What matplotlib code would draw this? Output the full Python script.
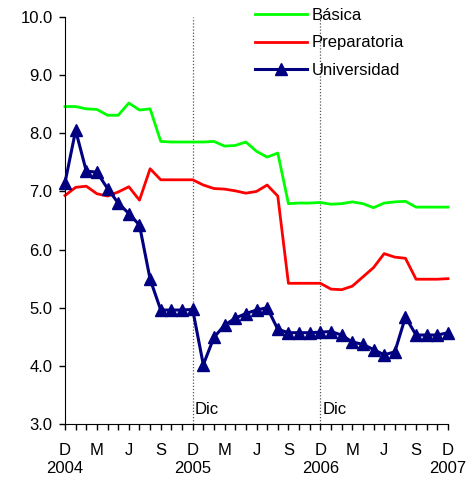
import matplotlib
matplotlib.use("Agg")
import matplotlib.pyplot as plt
import numpy as np

plt.rcParams["font.family"] = ["Liberation Sans", "DejaVu Sans"]

# monthly values, Dec 2004 .. Dec 2007
basica = [8.46, 8.46, 8.42, 8.41, 8.31, 8.31, 8.52, 8.40, 8.42, 7.86, 7.85, 7.85,
          7.85, 7.85, 7.86, 7.78, 7.79, 7.85, 7.69, 7.59, 7.66, 6.79, 6.80, 6.80,
          6.81, 6.78, 6.79, 6.82, 6.79, 6.72, 6.80, 6.82, 6.83, 6.73, 6.73, 6.73, 6.73]
preparatoria = [6.93, 7.07, 7.09, 6.96, 6.92, 6.99, 7.08, 6.85, 7.39, 7.20, 7.20, 7.20,
                7.20, 7.11, 7.05, 7.04, 7.01, 6.97, 7.00, 7.11, 6.92, 5.42, 5.42, 5.42,
                5.42, 5.32, 5.31, 5.37, 5.53, 5.69, 5.93, 5.87, 5.85, 5.49, 5.49, 5.49, 5.50]
universidad = [7.15, 8.05, 7.35, 7.33, 7.05, 6.80, 6.62, 6.42, 5.49, 4.96, 4.96, 4.96,
               4.97, 4.02, 4.49, 4.70, 4.82, 4.90, 4.96, 5.00, 4.63, 4.57, 4.57, 4.57,
               4.58, 4.59, 4.53, 4.41, 4.37, 4.28, 4.19, 4.24, 4.84, 4.53, 4.53, 4.53, 4.57]
quarter_labels = ["D\n2004", "M", "J", "S", "D\n2005", "M", "J", "S",
                  "D\n2006", "M", "J", "S", "D\n2007"]
dic_months = [12, 24]

months = np.arange(len(basica))

fig = plt.figure(figsize=(4.71, 4.84), dpi=100)
ax = fig.add_axes([65 / 471, 1 - 424 / 484, (448 - 65) / 471, (424 - 17) / 484])

ax.plot(months, basica, color="#00ff00", lw=2.0, label="Básica", clip_on=False)
ax.plot(months, preparatoria, color="#ff0000", lw=2.0, label="Preparatoria", clip_on=False)
ax.plot(months, universidad, color="#000080", lw=2.2, marker="^", markersize=8,
        label="Universidad", clip_on=False, zorder=3)

for m in dic_months:
    ax.axvline(m, color="#555555", lw=0.9, ls=(0, (1, 1.5)), zorder=0)
    ax.text(m + 0.2, 3.25, "Dic", fontsize=12, ha="left", va="center")

ax.set_xlim(0, 36)
ax.set_ylim(3, 10)
ax.set_yticks(np.arange(3, 10.5, 1.0))
ax.set_yticklabels([f"{v:.1f}" for v in np.arange(3, 10.5, 1.0)])
ax.set_xticks(months)
ax.set_xticklabels([quarter_labels[i // 3] if i % 3 == 0 else "" for i in months],
                   linespacing=1.25)

ax.tick_params(axis="both", direction="out", length=4, width=1, labelsize=12)
ax.tick_params(axis="x", pad=10)
ax.tick_params(axis="y", pad=5)
for side in ("top", "right"):
    ax.spines[side].set_visible(False)

ax.legend(loc="upper left", bbox_to_anchor=(255 / 471, 1 - 8 / 484),
          bbox_transform=fig.transFigure, frameon=False, fontsize=12,
          borderpad=0, borderaxespad=0, handlelength=3.1, handletextpad=0.3,
          labelspacing=0.75)

fig.savefig("out.png", dpi=100)
